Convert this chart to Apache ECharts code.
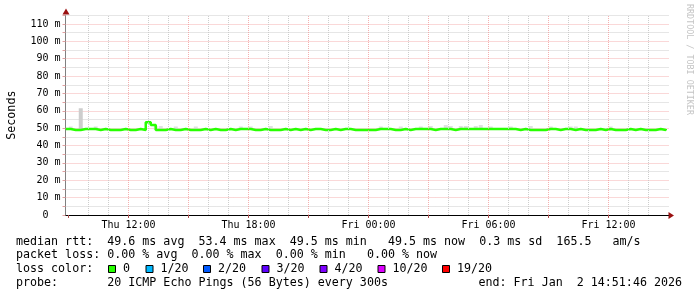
<!DOCTYPE html>
<html><head><meta charset="utf-8">
<script src="https://cdn.jsdelivr.net/npm/echarts@6/dist/echarts.min.js"></script>
<style>html,body{margin:0;padding:0;background:#fff}#c{width:697px;height:297px}</style>
</head><body><div id="c"></div>
<script>
// ---- data ----
const startHour = 8 + 51/60 + 46/3600;   // Thu 08:51:46 (hours since Thu 00:00)
const stepHours = 0.25;                   // 15 min consolidation
const median = [
  49.5,49.0,49.0,49.5,49.5,49.5,49.0,49.5,49.0,49.0,
  49.0,49.5,49.0,49.0,49.5,49.0,53.4,51.8,49.0,49.0,
  49.5,49.0,49.0,49.5,49.0,49.0,49.0,49.5,49.0,49.5,
  49.0,49.0,49.5,49.0,49.5,49.5,49.5,49.0,49.0,49.5,
  49.0,49.0,49.0,49.5,49.0,49.5,49.0,49.5,49.0,49.5,
  49.5,49.0,49.0,49.5,49.0,49.5,49.5,49.0,49.0,49.0,
  49.0,49.0,49.5,49.5,49.5,49.0,49.0,49.5,49.0,49.5,
  49.5,49.5,49.5,49.0,49.5,49.5,49.5,49.0,49.5,49.5,
  49.5,49.5,49.5,49.5,49.5,49.5,49.5,49.5,49.5,49.5,
  49.0,49.5,49.0,49.0,49.0,49.0,49.5,49.5,49.0,49.5,
  49.5,49.0,49.5,49.0,49.0,49.0,49.5,49.0,49.5,49.0,
  49.0,49.0,49.5,49.0,49.5,49.0,49.0,49.0,49.5,49.0,
  49.5
];
const smokeTop = [
  null,50.9,null,61.5,null,null,50.9,null,null,null,
  null,null,null,null,null,null,null,null,51.3,51.3,
  null,null,50.9,null,null,null,50.9,null,null,null,
  null,null,null,null,null,50.9,null,50.9,null,null,
  null,51.3,null,null,null,null,null,null,null,null,
  null,null,null,null,null,null,null,null,null,null,
  null,null,null,50.9,null,null,null,50.9,null,null,
  null,50.9,null,51.3,null,null,51.8,51.3,null,51.3,
  51.3,null,51.3,51.8,null,50.9,null,null,null,50.9,
  null,null,null,51.3,null,null,null,50.9,null,null,
  null,50.9,50.9,null,null,null,null,null,null,50.9,
  null,null,null,null,null,null,null,null,null,null,
  null
];
const xLabelHours = [12, 18, 24, 30, 36];
const xTickLabels = ['Thu 12:00', 'Thu 18:00', 'Fri 00:00', 'Fri 06:00', 'Fri 12:00'];
const statsLines = [
  'median rtt:  49.6 ms avg  53.4 ms max  49.5 ms min   49.5 ms now  0.3 ms sd  165.5   am/s',
  'packet loss: 0.00 % avg  0.00 % max  0.00 % min   0.00 % now',
  'loss color:',
  'probe:       20 ICMP Echo Pings (56 Bytes) every 300s'
];
const endText = 'end: Fri Jan  2 14:51:46 2026';
const lossLabels = ['0', '1/20', '2/20', '3/20', '4/20', '10/20', '19/20'];
const lossColors = ['#26ff00', '#00b8ff', '#0059ff', '#5e00ff', '#7e00ff', '#dd00ff', '#ff0000'];

// ---- layout / style ----
const MONO = 'DejaVu Sans Mono';
const FS = 11.66;
const MAJOR = 'rgba(240,150,150,0.75)';
const MINOR = 'rgba(200,200,200,0.9)';
const xMin = 8.85, xMax = 39.0;
const legendSqX = [108, 145.5, 203, 261.5, 319.5, 377.5, 442];
const lineY = [241.5, 255, 269, 283.3];

const xs = median.map((_, i) => startHour + i * stepHours);
const medianData = median.map((v, i) => [xs[i], v]);
const smokeData = [];
smokeTop.forEach((t, i) => { if (t != null) smokeData.push([xs[i], median[i], t]); });

const hourLines = [];
for (let h = Math.ceil(xMin + 0.2); h < xMax; h++) {
  hourLines.push({ xAxis: h, lineStyle: { color: h % 3 === 0 ? MAJOR : MINOR, type: 'dotted', width: 1 } });
}
const tickHours = [];
for (let h = Math.ceil(xMin / 3) * 3; h < xMax; h += 3) tickHours.push(h);

const graphics = [];
statsLines.forEach((s, k) => graphics.push({
  type: 'text', x: 16, y: lineY[k], silent: true,
  style: { text: s, fontFamily: MONO, fontSize: FS, fill: '#000', verticalAlign: 'middle', align: 'left' }
}));
graphics.push({ type: 'text', x: 682, y: lineY[3], silent: true,
  style: { text: endText, fontFamily: MONO, fontSize: FS, fill: '#000', verticalAlign: 'middle', align: 'right' } });
lossLabels.forEach((lab, k) => {
  graphics.push({ type: 'rect', silent: true, shape: { x: legendSqX[k] + 0.5, y: 265.5, width: 7, height: 7 },
    style: { fill: lossColors[k], stroke: '#000', lineWidth: 1 } });
  graphics.push({ type: 'text', silent: true, x: legendSqX[k] + 15, y: lineY[2],
    style: { text: lab, fontFamily: MONO, fontSize: FS, fill: '#000', verticalAlign: 'middle', align: 'left' } });
});
graphics.push({ type: 'text', x: 689, y: 4, rotation: -Math.PI / 2, silent: true,
  style: { text: 'RRDTOOL / TOBI OETIKER', fontFamily: MONO, fontSize: 8.4, fill: '#c4c4c4', verticalAlign: 'middle', align: 'left' } });
graphics.push({ type: 'polygon', silent: true, shape: { points: [[668.5, 212], [674, 215.5], [668.5, 219]] }, style: { fill: '#9a1010' } });
graphics.push({ type: 'polygon', silent: true, shape: { points: [[62.5, 14.5], [66, 8.5], [69.5, 14.5]] }, style: { fill: '#9a1010' } });

const chart = echarts.init(document.getElementById('c'));
chart.setOption({
  animation: false,
  backgroundColor: '#fff',
  grid: { left: 65.5, width: 603, top: 15.3, bottom: 82, containLabel: false, outerBoundsMode: 'none' },
  xAxis: {
    type: 'value', min: xMin, max: xMax,
    axisLine: { show: true, lineStyle: { color: '#000', width: 1 } },
    axisTick: { show: true, customValues: tickHours, length: 3, lineStyle: { color: '#b05050' } },
    axisLabel: { customValues: xLabelHours, formatter: v => { const k = xLabelHours.indexOf(v); return k < 0 ? '' : xTickLabels[k]; },
      fontFamily: MONO, fontSize: 10, color: '#000', margin: 5 },
    splitLine: { show: false }
  },
  yAxis: {
    type: 'value', min: 0, max: 115, interval: 5,
    name: 'Seconds', nameLocation: 'middle', nameGap: 48, nameRotate: 90,
    nameTextStyle: { fontFamily: MONO, fontSize: FS, color: '#000' },
    axisLine: { show: true, lineStyle: { color: '#808080', width: 1 } },
    axisTick: { show: true, length: 3, lineStyle: { color: '#e0a0a0' } },
    axisLabel: { formatter: v => v % 10 !== 0 ? '' : (v === 0 ? '0  ' : v + ' m'),
      fontFamily: MONO, fontSize: 10, color: '#000', margin: 5 },
    splitLine: { show: true, lineStyle: { type: 'dotted', width: 1, color: [MAJOR, MINOR] } }
  },
  series: [
    { type: 'line', data: [], z: 1, silent: true, symbol: 'none',
      markLine: { silent: true, symbol: ['none', 'none'], label: { show: false }, animation: false, data: hourLines } },
    { type: 'custom', data: smokeData, z: 2, silent: true, clip: true,
      renderItem: (params, api) => {
        const x = api.value(0), lo = api.value(1), hi = api.value(2);
        const top = api.coord([x, hi]), bot = api.coord([x, lo]);
        return { type: 'rect', shape: { x: top[0] - 2, y: top[1], width: 4, height: bot[1] - top[1] },
          style: { fill: (hi - lo) > 5 ? '#cdcdcd' : '#e0e0e0' } };
      } },
    { type: 'line', step: 'end', data: medianData, symbol: 'none', z: 4, silent: true,
      lineStyle: { color: '#26ff00', width: 2.5 } }
  ],
  graphic: graphics
});
</script>
</body></html>
